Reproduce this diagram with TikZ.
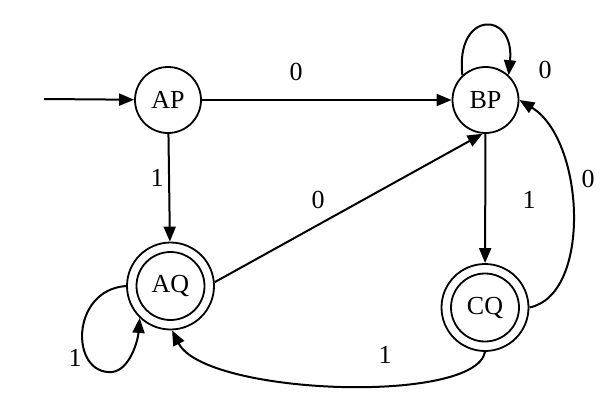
\documentclass[tikz,border=0pt]{standalone}
\usepackage{fontspec}
\setmainfont{Liberation Serif}
\usetikzlibrary{arrows.meta}
\begin{document}
\begin{tikzpicture}[x=1pt,y=-1pt,
  every node/.style={font=\fontsize{26}{30}\selectfont},
  state/.style={circle,draw,line width=1.8pt,minimum size=66pt,inner sep=0pt},
  accept/.style={circle,draw,line width=1.8pt,minimum size=87pt,inner sep=0pt,
    path picture={\draw[line width=1.8pt] (path picture bounding box.center) circle (34pt);}},
  edge/.style={line width=2pt,-{Triangle[length=15pt,width=12pt]}},
  lbl/.style={inner sep=0pt}]
\useasboundingbox (0,0) rectangle (608,410);
\node[state] (AP) at (168,100) {AP};
\node[state] (BP) at (485.5,100) {BP};
\node[accept] (AQ) at (170.5,286) {AQ};
\node[accept] (CQ) at (485,307.5) {CQ};
\coordinate (start) at (44,99);
\draw[edge] (start) -- (AP);
\draw[edge] (AP) -- (BP);
\node[lbl] (l1) at (296,72) {0};
\draw[edge] (AP) -- (AQ);
\node[lbl] (l2) at (157,178) {1};
\draw[edge] (AQ.5) -- (BP.265);
\node[lbl] (l3) at (318,200) {0};
\draw[edge] (BP.133) .. controls (455,10) and (515,10) .. (BP.47);
\node[lbl] (l4) at (545,70) {0};
\draw[edge] (BP) -- (CQ);
\node[lbl] (l5) at (529,200) {1};
\draw[edge] (CQ.0) .. controls (592,295) and (585,140) .. (BP.0);
\node[lbl] (l6) at (588,179) {0};
\draw[edge] (CQ.270) .. controls (475,405) and (205,395) .. (AQ.272);
\node[lbl] (l7) at (385,355) {1};
\draw[edge] (AQ.180) .. controls (70,290) and (70,375) .. (112,372) .. controls (130,370) and (138,340) .. (AQ.226);
\node[lbl] (l8) at (75,358) {1};
\end{tikzpicture}
\end{document}
